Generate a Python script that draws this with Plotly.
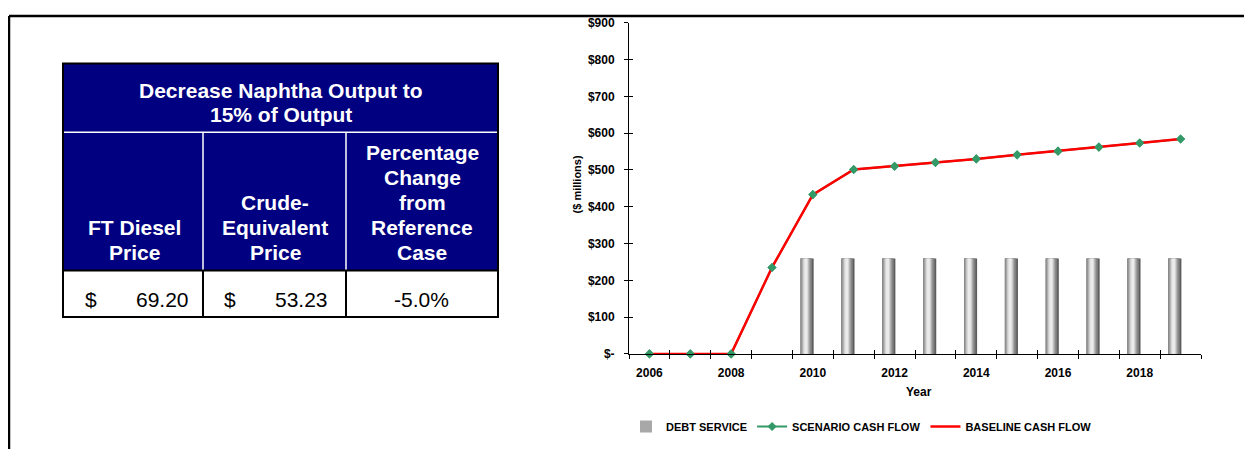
import plotly.graph_objects as go

# ── data ─────────────────────────────────────────────────────────────────────
years = [2006, 2007, 2008, 2009, 2010, 2011, 2012, 2013, 2014, 2015, 2016, 2017, 2018, 2019]
scenario_cash_flow = [0, 0, 0, 235, 433, 501, 510, 520, 530, 541, 551, 562, 573, 584]
baseline_cash_flow = [0, 0, 0, 235, 433, 501, 510, 520, 530, 541, 551, 562, 573, 584]

debt_years = [2010, 2011, 2012, 2013, 2014, 2015, 2016, 2017, 2018, 2019]
debt_service = [259, 259, 259, 259, 259, 259, 259, 259, 259, 259]

y_tick_vals = [0, 100, 200, 300, 400, 500, 600, 700, 800, 900]
y_tick_text = ["$-", "$100", "$200", "$300", "$400", "$500", "$600", "$700", "$800", "$900"]
x_tick_vals = [2006, 2008, 2010, 2012, 2014, 2016, 2018]

table_title = ["Decrease Naphtha Output to", "15% of Output"]
table_headers = [
    ["FT Diesel", "Price"],
    ["Crude-", "Equivalent", "Price"],
    ["Percentage", "Change", "from", "Reference", "Case"],
]
ft_diesel_price = "69.20"
crude_equiv_price = "53.23"
pct_change = "-5.0%"

# ── helpers: page pixel -> paper ─────────────────────────────────────────────
# figure is shrunk by the 8px body margin on each side so the page fits the window
OX, OY = 8, 8
FW, FH = 1252 - 2 * OX, 457 - 2 * OY
FONT = "Arial, 'Liberation Sans', sans-serif"
NAVY = "#000080"


def px(x):
    return (x - OX) / FW


def py(y):
    return 1 - (y - OY) / FH


def text_at(text, x, baseline, size, color="black", bold=True, xanchor="center"):
    return dict(
        text=text, x=px(x), y=py(baseline - 0.35 * size), xref="paper", yref="paper",
        xanchor=xanchor, yanchor="middle", showarrow=False,
        font=dict(family=FONT, size=size, color=color, weight="bold" if bold else "normal"),
    )


fig = go.Figure()

# debt service bars: nested layers give the shaded cylinder look
BAR_LEFT, BAR_W = -0.30, 0.32
layers = [
    (0.00, 1.00, "#5c5c5c"),
    (0.00, 0.88, "#7c7c7c"),
    (0.00, 0.78, "#8c8c8c"),
    (0.08, 0.70, "#a8a8a8"),
    (0.16, 0.62, "#c4c4c4"),
    (0.22, 0.56, "#dadada"),
    (0.30, 0.50, "#ebebeb"),
]
for i, (a, b, col) in enumerate(layers):
    fig.add_trace(go.Bar(
        x=debt_years, y=debt_service,
        width=BAR_W * (b - a), offset=BAR_LEFT + BAR_W * a,
        marker=dict(color=col, line=dict(width=0)),
        name="DEBT SERVICE", showlegend=(i == 3), hoverinfo="skip",
    ))

fig.add_trace(go.Scatter(
    x=years, y=scenario_cash_flow, mode="lines+markers", name="SCENARIO CASH FLOW",
    line=dict(color="#339966", width=2),
    marker=dict(symbol="diamond", size=7, color="#339966"),
    cliponaxis=False,
))
fig.add_trace(go.Scatter(
    x=years, y=baseline_cash_flow, mode="lines", name="BASELINE CASH FLOW",
    line=dict(color="#ff0000", width=2.5), cliponaxis=False,
))
# scenario markers sit on top of the red line
fig.add_trace(go.Scatter(
    x=years, y=scenario_cash_flow, mode="markers", showlegend=False,
    marker=dict(symbol="diamond", size=7, color="#339966"), cliponaxis=False,
))
# dummy trace so the overlay axes (inner tick halves) get drawn
fig.add_trace(go.Scatter(x=[None], y=[None], xaxis="x2", yaxis="y2",
                         showlegend=False, hoverinfo="skip"))

# top of the axis kept a few px lower so the $900 label stays inside the div
x_dom = [px(629), px(1201)]
y_dom = [py(358), py(16)]
x_rng = [2005.5, 2019.5]
y_rng = [0, 900]

fig.update_layout(
    width=FW, height=FH,
    margin=dict(l=0, r=0, t=0, b=0),
    paper_bgcolor="white", plot_bgcolor="white",
    barmode="overlay",
    font=dict(family=FONT, color="black"),
    xaxis=dict(
        domain=x_dom, range=x_rng, tickmode="array", tickvals=x_tick_vals,
        ticks="", showgrid=False, zeroline=False,
        showline=True, linecolor="black", linewidth=1,
        tickfont=dict(size=12, weight="bold"), ticklabelstandoff=8,
        minor=dict(tick0=2005.5, dtick=1, ticks="outside", ticklen=4,
                   tickcolor="black", showgrid=False),
    ),
    yaxis=dict(
        domain=y_dom, range=y_rng, tickmode="array", tickvals=y_tick_vals,
        ticktext=y_tick_text, ticks="outside", ticklen=4, tickcolor="black",
        showgrid=False, zeroline=False, showline=True, linecolor="black", linewidth=1,
        tickfont=dict(size=12, weight="bold"), ticklabelstandoff=7,
    ),
    xaxis2=dict(
        overlaying="x", anchor="y2", range=x_rng, tickmode="linear", tick0=2005.5,
        dtick=1, ticks="inside", ticklen=4, tickcolor="black",
        showticklabels=False, showgrid=False, zeroline=False, showline=False,
    ),
    yaxis2=dict(
        overlaying="y", anchor="x2", side="left", range=y_rng, tickmode="array",
        tickvals=y_tick_vals, ticks="inside", ticklen=4, tickcolor="black",
        showticklabels=False, showgrid=False, zeroline=False, showline=False,
    ),
    legend=dict(
        orientation="h", x=px(626), y=py(433), xanchor="left", yanchor="middle",
        font=dict(size=11, weight="bold"), bgcolor="rgba(0,0,0,0)",
        itemwidth=30, traceorder="normal",
    ),
)

# ── frame and table ──────────────────────────────────────────────────────────
shapes = [
    dict(type="line", x0=px(OX + 1), x1=px(1252), y0=py(OY + 1), y1=py(OY + 1), line=dict(color="black", width=2.5)),
    dict(type="line", x0=px(OX + 1), x1=px(OX + 1), y0=py(OY + 1), y1=py(457), line=dict(color="black", width=2.5)),
    dict(type="rect", x0=px(63), x1=px(498), y0=py(58), y1=py(272), fillcolor=NAVY, line=dict(width=0)),
    dict(type="line", x0=px(63), x1=px(498), y0=py(129), y1=py(129), line=dict(color="white", width=1.5)),
    dict(type="line", x0=px(203), x1=px(203), y0=py(129), y1=py(272), line=dict(color="white", width=1.5)),
    dict(type="line", x0=px(346), x1=px(346), y0=py(129), y1=py(272), line=dict(color="white", width=1.5)),
    dict(type="line", x0=px(63), x1=px(498), y0=py(272), y1=py(272), line=dict(color="black", width=2)),
    dict(type="line", x0=px(203), x1=px(203), y0=py(272), y1=py(320), line=dict(color="black", width=2)),
    dict(type="line", x0=px(346), x1=px(346), y0=py(272), y1=py(320), line=dict(color="black", width=2)),
    dict(type="rect", x0=px(63), x1=px(498), y0=py(58), y1=py(320), line=dict(color="black", width=2)),
]
for s in shapes:
    s.update(xref="paper", yref="paper")
    fig.add_shape(**s)

anns = []
for i, line in enumerate(table_title):
    anns.append(text_at(line, 281, 93 + 25 * i, 21, "white"))
for cx, lines in zip([134, 275, 422], table_headers):
    n = len(lines)
    for i, line in enumerate(lines):
        anns.append(text_at(line, cx, 261 - 26 * (n - 1 - i), 21, "white"))
anns.append(text_at("$", 83, 309, 21, bold=False, xanchor="left"))
anns.append(text_at(ft_diesel_price, 191, 309, 21, bold=False, xanchor="right"))
anns.append(text_at("$", 222, 309, 21, bold=False, xanchor="left"))
anns.append(text_at(crude_equiv_price, 330, 309, 21, bold=False, xanchor="right"))
anns.append(text_at(pct_change, 421, 309, 21, bold=False))

# axis titles
anns.append(text_at("Year", 919, 402, 12))
anns.append(dict(
    text="($ millions)", x=px(577), y=py(183), xref="paper", yref="paper",
    xanchor="center", yanchor="middle", showarrow=False, textangle=-90,
    font=dict(family=FONT, size=11, color="black", weight="bold"),
))
fig.update_layout(annotations=anns)

fig.write_html("out.html", config={"displayModeBar": False})
